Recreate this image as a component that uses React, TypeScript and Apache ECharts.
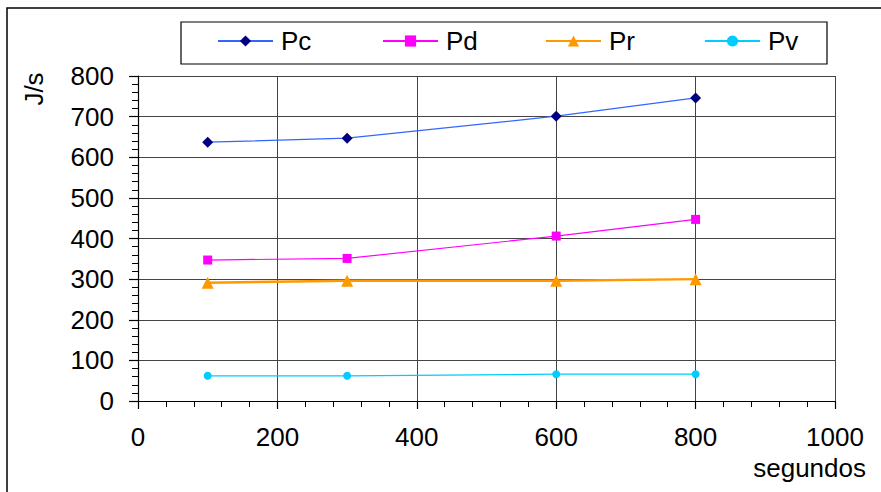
import React, { useEffect, useRef } from "react";
import * as echarts from "echarts";

const seconds = [100, 300, 600, 800];
const pc = [637, 647, 701, 746];
const pd = [347, 351, 406, 447];
const pr = [291, 296, 296, 300];
const pv = [62, 62, 66, 66];
const seriesNames = ["Pc", "Pd", "Pr", "Pv"];

const FONT = "'Liberation Sans', Arial, sans-serif";
const FS = 26;

export default function App() {
  const ref = useRef<HTMLDivElement>(null);
  useEffect(() => {
    const chart = echarts.init(ref.current!, null, { renderer: "svg" });
    const pts = (ys: number[]) => seconds.map((x, i) => [x, ys[i]]);
    const legendX = [217, 382, 545, 704];
    chart.setOption({
      animation: false,
      backgroundColor: "#fff",
      textStyle: { fontFamily: FONT, color: "#000" },
      grid: { left: 138, right: 46, top: 76, bottom: 91, show: false },
      legend: seriesNames.map((n, i) => ({
        data: [n],
        left: legendX[i],
        top: 28,
        padding: 0,
        itemWidth: 55,
        itemHeight: 14,
        textStyle: { fontSize: FS, fontFamily: FONT, color: "#000", padding: [0, 0, 0, 3] },
      })),
      xAxis: {
        type: "value",
        min: 0,
        max: 1000,
        interval: 200,
        axisLine: { show: true, lineStyle: { color: "#000", width: 1.2 } },
        axisTick: { show: true, inside: false, length: 8, lineStyle: { color: "#000", width: 1.2 } },
        minorTick: { show: true, splitNumber: 5, length: 6, lineStyle: { color: "#000", width: 1 } },
        splitLine: { show: true, lineStyle: { color: "#444", width: 1 } },
        axisLabel: { fontSize: FS, color: "#000", margin: 23, fontFamily: FONT, formatter: (v: number) => String(v) },
      },
      yAxis: {
        type: "value",
        min: 0,
        max: 800,
        interval: 100,
        axisLine: { show: true, lineStyle: { color: "#000", width: 1.2 } },
        axisTick: { show: true, inside: false, length: 9, lineStyle: { color: "#000", width: 1.2 } },
        minorTick: { show: true, splitNumber: 5, length: 6, lineStyle: { color: "#000", width: 1 } },
        splitLine: { show: true, lineStyle: { color: "#444", width: 1 } },
        axisLabel: { fontSize: FS, color: "#000", margin: 24, fontFamily: FONT, formatter: (v: number) => String(v) },
      },
      graphic: [
        {
          type: "rect",
          shape: { x: 7, y: 8, width: 900, height: 500 },
          style: { fill: "none", stroke: "#000", lineWidth: 1.5 },
          silent: true,
        },
        {
          type: "rect",
          shape: { x: 181, y: 22, width: 646, height: 42 },
          style: { fill: "none", stroke: "#000", lineWidth: 1.2 },
          silent: true,
        },
        {
          type: "text",
          x: 866,
          y: 468,
          style: { text: "segundos", font: `${FS}px ${FONT}`, fill: "#000", align: "right", verticalAlign: "middle" },
        },
        {
          type: "text",
          x: 34,
          y: 89,
          rotation: Math.PI / 2,
          style: { text: "J/s", font: `${FS}px ${FONT}`, fill: "#000", align: "center", verticalAlign: "middle" },
        },
      ],
      series: [
        {
          name: "Pc",
          type: "line",
          data: pts(pc),
          symbol: "diamond",
          symbolSize: 11,
          itemStyle: { color: "#000080" },
          lineStyle: { color: "#3366FF", width: 1.2 },
        },
        {
          name: "Pd",
          type: "line",
          data: pts(pd),
          symbol: "rect",
          symbolSize: 9,
          itemStyle: { color: "#FF00FF" },
          lineStyle: { color: "#FF00FF", width: 1.2 },
        },
        {
          name: "Pr",
          type: "line",
          data: pts(pr),
          symbol: "triangle",
          symbolSize: 12,
          itemStyle: { color: "#FF9900" },
          lineStyle: { color: "#FF9900", width: 2.5 },
        },
        {
          name: "Pv",
          type: "line",
          data: pts(pv),
          symbol: "circle",
          symbolSize: 8,
          itemStyle: { color: "#00CCFF" },
          lineStyle: { color: "#00CCFF", width: 1.2 },
        },
      ],
    });
    return () => chart.dispose();
  }, []);
  return <div ref={ref} style={{ position: "fixed", left: 0, top: 0, width: 881, height: 492 }} />;
}
